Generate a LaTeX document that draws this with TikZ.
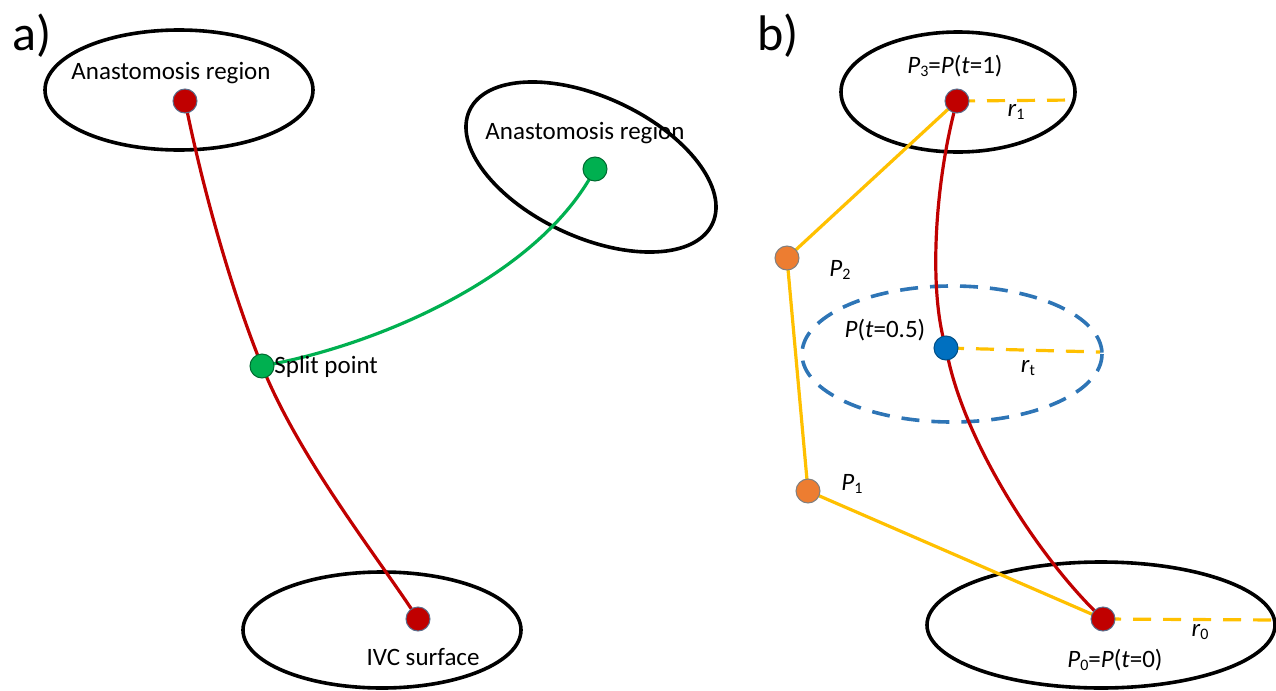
\documentclass[tikz,border=0pt]{standalone}
\usepackage{fontspec}
\setmainfont{Carlito}
\definecolor{cRed}{HTML}{C00000}
\definecolor{cGreen}{HTML}{00B050}
\definecolor{cOrange}{HTML}{ED7D31}
\definecolor{cBlue}{HTML}{0070C0}
\definecolor{cDash}{HTML}{2E75B6}
\definecolor{cYellow}{HTML}{FFC000}
\definecolor{cRim}{HTML}{5A6E8C}
\newcommand{\Pv}[1]{\textit{P}\raisebox{-0.25ex}{\footnotesize #1}}
\tikzset{
  region/.style={draw=black, line width=1.8pt},
  dotnode/.style={circle, inner sep=0pt, minimum size=12pt, draw=cRim, line width=0.5pt},
  reddot/.style={dotnode, fill=cRed},
  greendot/.style={dotnode, fill=cGreen, draw=cGreen!60!black},
  orangedot/.style={dotnode, fill=cOrange, draw=gray},
  bluedot/.style={dotnode, fill=cBlue, draw=cBlue!70!black},
  vessel/.style={line width=1.6pt},
  radius line/.style={draw=cYellow, line width=1.6pt, dash pattern=on 9pt off 6pt},
  lbl/.style={font=\fontsize{12.5}{15}\selectfont, inner sep=1pt},
  panel/.style={font=\fontsize{25}{30}\selectfont, inner sep=0pt}
}
\begin{document}
\begin{tikzpicture}[x=0.5pt, y=-0.5pt]
\useasboundingbox (0,0) rectangle (1276,691);

% ---------------- panel a ----------------
\node[panel] (la) at (32,36) {a)};
\draw[region] (179,90) ellipse [x radius=134, y radius=60];
\draw[region] (591,167) ellipse [x radius=134, y radius=70, rotate=-25];
\draw[region] (382,630) ellipse [x radius=139, y radius=58];

\coordinate (a1) at (185,101);
\coordinate (a2) at (595,169);
\coordinate (as) at (262,366);
\coordinate (a0) at (418,619);

\draw[vessel, cRed] (a1) .. controls (205,200) and (235,300) .. (as)
                         .. controls (300,460) and (380,560) .. (a0);
\draw[vessel, cGreen] (a2) .. controls (540,275) and (380,345) .. (as);

\node[reddot] (da1) at (a1) {};
\node[greendot] (da2) at (a2) {};
\node[greendot] (das) at (as) {};
\node[reddot] (da0) at (a0) {};

\node[lbl] (ta1) at (171,73) {Anastomosis region};
\node[lbl] (ta2) at (585,133) {Anastomosis region};
\node[lbl, anchor=west] (tas) at (272,367) {Split point};
\node[lbl] (ta0) at (423,657) {IVC surface};

% ---------------- panel b ----------------
\node[panel] (lb) at (778,36) {b)};
\draw[region] (958,92) ellipse [x radius=117, y radius=60];
\draw[region] (1101,625) ellipse [x radius=174, y radius=63];
\draw[draw=cDash, line width=1.8pt, dash pattern=on 9pt off 6pt]
  (952,354) ellipse [x radius=150, y radius=68];

\coordinate (p3) at (957,101);
\coordinate (p2) at (787,258);
\coordinate (p1) at (808,491);
\coordinate (p0) at (1103,619);
\coordinate (pm) at (946,348);
\coordinate (e3) at (1075,100);
\coordinate (em) at (1100,352);
\coordinate (e0) at (1276,620);

% control polygon
\draw[vessel, cYellow] (p3) -- (p2) -- (p1) -- (p0);
% radii
\draw[radius line] (p3) -- (e3);
\draw[radius line] (pm) -- (em);
\draw[radius line] (p0) -- (e0);
% centre line
\draw[vessel, cRed] (p3) .. controls (935,180) and (928,290) .. (pm)
                         .. controls (962,440) and (1040,560) .. (p0);

\node[reddot] (dp3) at (p3) {};
\node[orangedot] (dp2) at (p2) {};
\node[orangedot] (dp1) at (p1) {};
\node[reddot] (dp0) at (p0) {};
\node[bluedot] (dpm) at (pm) {};

\node[lbl] (tp3) at (955,66) {\Pv{3}=\textit{P}(\textit{t}=1)};
\node[lbl] (tr1) at (1016,112) {\textit{r}\raisebox{-0.25ex}{\footnotesize 1}};
\node[lbl] (tp2) at (840,270) {\Pv{2}};
\node[lbl] (tpm) at (885,330) {\textit{P}(\textit{t}=0.5)};
\node[lbl] (trt) at (1028,368) {\textit{r}\raisebox{-0.25ex}{\footnotesize t}};
\node[lbl] (tp1) at (852,484) {\Pv{1}};
\node[lbl] (tr0) at (1200,632) {\textit{r}\raisebox{-0.25ex}{\footnotesize 0}};
\node[lbl] (tp0) at (1115,660) {\Pv{0}=\textit{P}(\textit{t}=0)};
\end{tikzpicture}
\end{document}
